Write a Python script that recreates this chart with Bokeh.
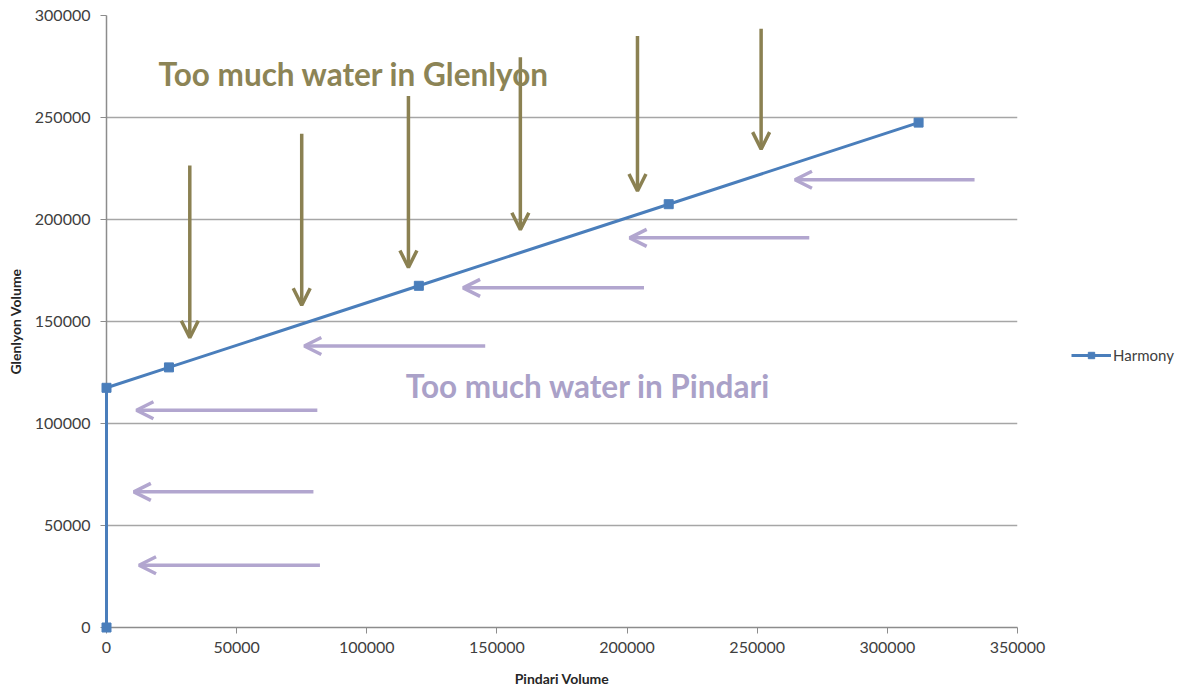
from bokeh.plotting import figure
from bokeh.models import (ColumnDataSource, Arrow, OpenHead, Label, Legend,
                          LegendItem, FixedTicker, NumeralTickFormatter, Range1d)
from bokeh.embed import file_html
from bokeh.resources import INLINE

# Harmony curve: Pindari volume vs Glenlyon volume
pindari_volume = [0, 0, 24000, 120000, 216000, 312000]
glenlyon_volume = [0, 117500, 127500, 167500, 207500, 247500]

# Downward arrows (excess in Glenlyon)
glenlyon_arrow_x = [32000, 75000, 116000, 159000, 204000, 251500]
glenlyon_arrow_top = [226500, 242000, 260500, 279500, 290000, 293500]
glenlyon_arrow_tip = [142000, 158000, 176500, 195000, 214000, 234500]

# Leftward arrows (excess in Pindari)
pindari_arrow_y = [219500, 191000, 166500, 138000, 106500, 66500, 30500]
pindari_arrow_start = [333500, 270000, 206500, 145500, 81000, 79500, 82000]
pindari_arrow_tip = [264500, 201000, 137000, 76000, 11500, 10500, 12500]

x_ticks = [0, 50000, 100000, 150000, 200000, 250000, 300000, 350000]
y_ticks = [0, 50000, 100000, 150000, 200000, 250000, 300000]

FONT = "Lato"
BLUE = "#4a7ebb"
OLIVE = "#8b8152"
LAVENDER = "#b2a6cf"

p = figure(frame_width=911, frame_height=612, output_backend="svg", toolbar_location=None,
           x_range=Range1d(0, 350000), y_range=Range1d(0, 300000),
           min_border_left=106, min_border_right=171,
           min_border_top=15, min_border_bottom=62)
p.outline_line_color = None
p.background_fill_color = "white"

# axes
for ax in (p.xaxis, p.yaxis):
    ax.axis_line_color = "#8c8c8c"
    ax.axis_line_width = 1.5
    ax.major_tick_line_color = "#8c8c8c"
    ax.major_tick_in = 0
    ax.major_tick_out = 6
    ax.minor_tick_line_color = None
    ax.formatter = NumeralTickFormatter(format="0")
    ax.major_label_text_font = FONT
    ax.major_label_text_font_size = "16px"
    ax.major_label_text_color = "#404040"
    ax.axis_label_text_font = FONT
    ax.axis_label_text_font_style = "bold"
    ax.axis_label_text_font_size = "14px"
    ax.axis_label_text_color = "#262626"

p.xaxis.ticker = FixedTicker(ticks=x_ticks)
p.yaxis.ticker = FixedTicker(ticks=y_ticks)
p.xaxis.axis_label = "Pindari Volume"
p.yaxis.axis_label = "Glenlyon Volume"
p.xaxis.major_label_standoff = 8
p.yaxis.major_label_standoff = 10
p.xaxis.axis_label_standoff = 14
p.yaxis.axis_label_standoff = 8

p.xgrid.grid_line_color = None
p.ygrid.grid_line_color = "#a6a6a6"
p.ygrid.grid_line_width = 1.5

# arrows
down_src = ColumnDataSource(dict(x=glenlyon_arrow_x, top=glenlyon_arrow_top,
                                 tip=glenlyon_arrow_tip))
p.add_layout(Arrow(source=down_src, x_start="x", y_start="top", x_end="x", y_end="tip",
                   line_color=OLIVE, line_width=3.5,
                   end=OpenHead(size=17, line_color=OLIVE, line_width=3.5)))

left_src = ColumnDataSource(dict(y=pindari_arrow_y, start=pindari_arrow_start,
                                 tip=pindari_arrow_tip))
p.add_layout(Arrow(source=left_src, x_start="start", y_start="y", x_end="tip", y_end="y",
                   line_color=LAVENDER, line_width=3.5,
                   end=OpenHead(size=17, line_color=LAVENDER, line_width=3.5)))

# harmony line, drawn above the axis so the x=0 segment stays blue
src = ColumnDataSource(dict(x=pindari_volume, y=glenlyon_volume))
line_r = p.line("x", "y", source=src, line_color=BLUE, line_width=3, level="overlay")
pts_r = p.scatter("x", "y", source=src, marker="square", size=9,
                  fill_color=BLUE, line_color=BLUE, level="overlay")

# annotations
p.add_layout(Label(x=20000, y=271500, text="Too much water in Glenlyon",
                   text_font=FONT, text_font_size="31.5px", text_font_style="bold",
                   text_color="#8c8456", text_baseline="middle", text_align="left"))
p.add_layout(Label(x=115000, y=118500, text="Too much water in Pindari",
                   text_font=FONT, text_font_size="31.5px", text_font_style="bold",
                   text_color="#aaa1c8", text_baseline="middle", text_align="left"))

legend = Legend(items=[LegendItem(label="Harmony", renderers=[line_r, pts_r])],
                location=(54, 263), border_line_color=None,
                background_fill_alpha=0, label_text_font=FONT,
                label_text_font_size="15px", label_text_color="#404040",
                glyph_width=40, glyph_height=16, label_standoff=2,
                padding=0, margin=0, spacing=0)
p.add_layout(legend, "right")

open("out.html", "w").write(file_html(p, INLINE))
